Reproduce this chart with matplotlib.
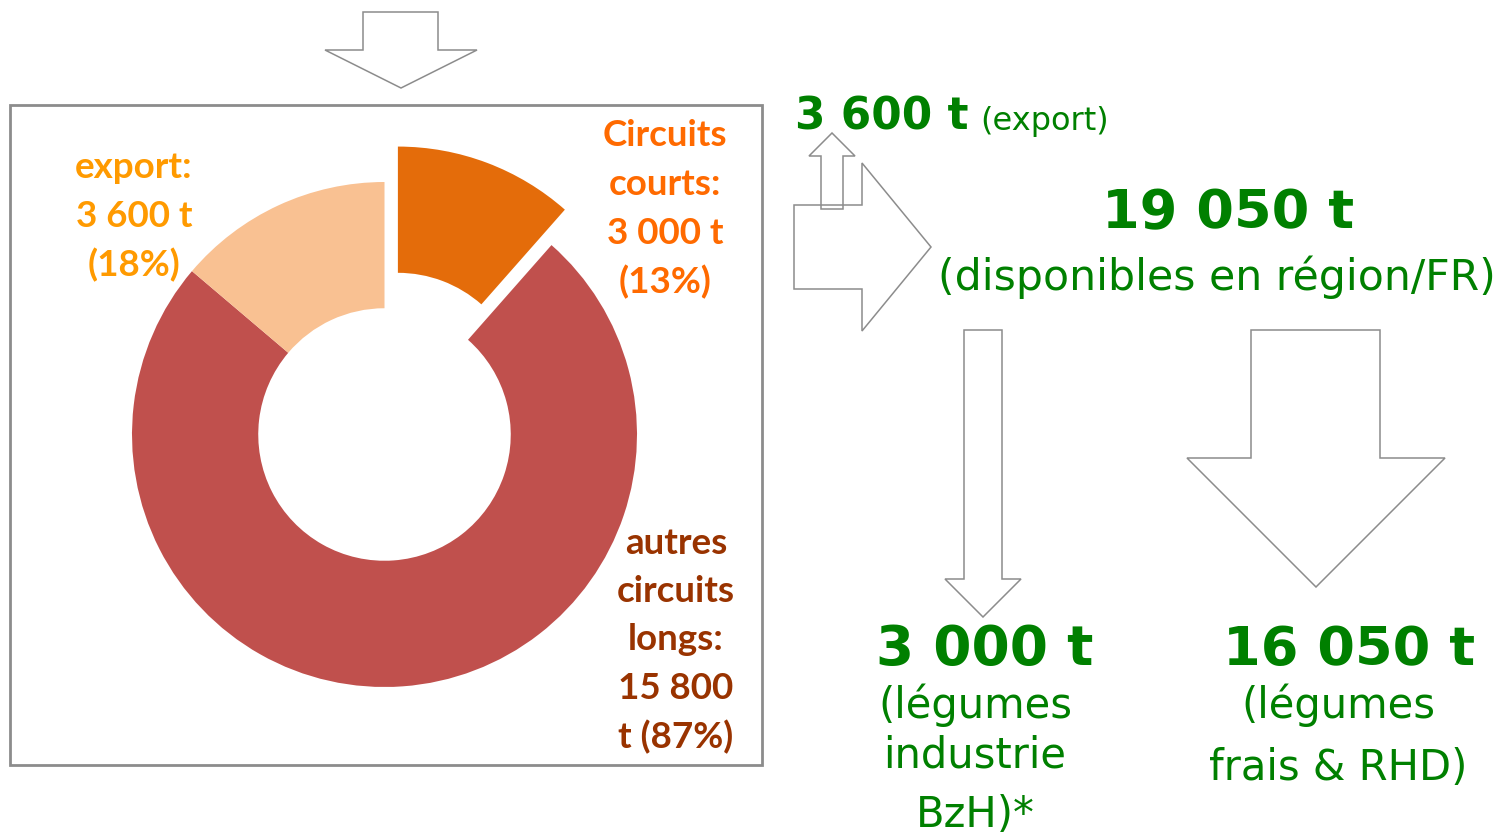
import matplotlib
matplotlib.use("Agg")
import matplotlib.pyplot as plt
from matplotlib.patches import Polygon, Rectangle

# donut slices, clockwise from 12 o'clock (angular shares, %)
slice_names = ["Circuits courts", "autres circuits longs", "export"]
slice_shares = [11.5, 74.7, 13.8]
slice_colors = ["#E46C0A", "#C0504D", "#F9C192"]
slice_explode = [0.15, 0.0, 0.0]

# labels around the donut
export_label = ["export:", "3 600 t", "(18%)"]
courts_label = ["Circuits", "courts:", "3 000 t", "(13%)"]
longs_label = ["autres", "circuits", "longs:", "15 800", "t (87%)"]

# flow figures on the right
export_tonnes = "3 600 t"
available_tonnes = "19 050 t"
industry_tonnes = "3 000 t"
fresh_tonnes = "16 050 t"
industry_note = ["(légumes", "industrie", "BzH)*"]
fresh_note = ["(légumes", "frais & RHD)"]

GREEN = "#008000"
LINE = "#8C8C8C"
W, H = 1506, 835

fig = plt.figure(figsize=(W / 100, H / 100), dpi=100)
canvas = fig.add_axes([0, 0, 1, 1])
canvas.set_xlim(0, W)
canvas.set_ylim(H, 0)
canvas.axis("off")

# frame around the donut
canvas.add_patch(Rectangle((10, 105), 752, 660, facecolor="none", edgecolor=LINE, lw=2))

# donut, placed in its own axes so the unit circle sits at the right spot
cx, cy, R = 384.5, 434.5, 252.5
half = 1.3 * R
ax_pie = fig.add_axes([(cx - half) / W, (H - cy - half) / H, 2 * half / W, 2 * half / H])
ax_pie.pie(
    slice_shares,
    colors=slice_colors,
    explode=slice_explode,
    startangle=90,
    counterclock=False,
    wedgeprops=dict(width=0.5, edgecolor="none"),
)
ax_pie.set_xlim(-1.3, 1.3)
ax_pie.set_ylim(-1.3, 1.3)
ax_pie.axis("off")


def stacked(x, y0, lines, pitch, **kw):
    for i, line in enumerate(lines):
        canvas.text(x, y0 + i * pitch, line, ha="center", va="center", **kw)


lab_kw = dict(family="Lato", fontweight="bold", fontsize=26.5)
stacked(134, 168, export_label, 48.5, color="#FF9A00", **lab_kw)
stacked(665, 136, courts_label, 48.7, color="#FF6A00", **lab_kw)
stacked(676, 543, longs_label, 48.5, color="#993300", **lab_kw)

# block arrows (outline only)
arrows = {
    "top": [(363, 12), (438, 12), (438, 50), (477, 50), (401, 88), (325, 50), (363, 50)],
    "right": [(794, 205), (862, 205), (862, 163), (931, 247), (862, 331), (862, 289), (794, 289)],
    "thin_down": [(964, 330), (1002, 330), (1002, 579), (1021, 579), (983, 617), (945, 579), (964, 579)],
    "big_down": [(1251, 330), (1380, 330), (1380, 458), (1445, 458), (1316, 587), (1187, 458), (1251, 458)],
}
for pts in arrows.values():
    canvas.add_patch(Polygon(pts, closed=True, facecolor="white", edgecolor=LINE, lw=1.1))
up = [(821, 209), (821, 156), (809, 156), (832, 133), (855, 156), (843, 156), (843, 209)]
canvas.add_patch(Polygon(up, closed=True, facecolor="none", edgecolor=LINE, lw=1.1))

# green figures
canvas.text(795, 130, export_tonnes, color=GREEN, fontsize=31.5, fontweight="bold", ha="left", va="baseline")
canvas.text(980, 130, "(export)", color=GREEN, fontsize=23, ha="left", va="baseline")
canvas.text(1228, 228, available_tonnes, color=GREEN, fontsize=39, fontweight="bold", ha="center", va="baseline")
canvas.text(1217, 290, "(disponibles en région/FR)", color=GREEN, fontsize=30.7, ha="center", va="baseline")

canvas.text(985, 665, industry_tonnes, color=GREEN, fontsize=39.5, fontweight="bold", ha="center", va="baseline")
canvas.text(1349, 665, fresh_tonnes, color=GREEN, fontsize=39, fontweight="bold", ha="center", va="baseline")
for i, line in enumerate(industry_note):
    yb = [718, 768, 827][i]
    canvas.text(975, yb, line, color=GREEN, fontsize=30, ha="center", va="baseline")
for i, line in enumerate(fresh_note):
    yb = [718, 780][i]
    canvas.text(1338, yb, line, color=GREEN, fontsize=30, ha="center", va="baseline")

fig.savefig("out.png", dpi=100, facecolor="white")
